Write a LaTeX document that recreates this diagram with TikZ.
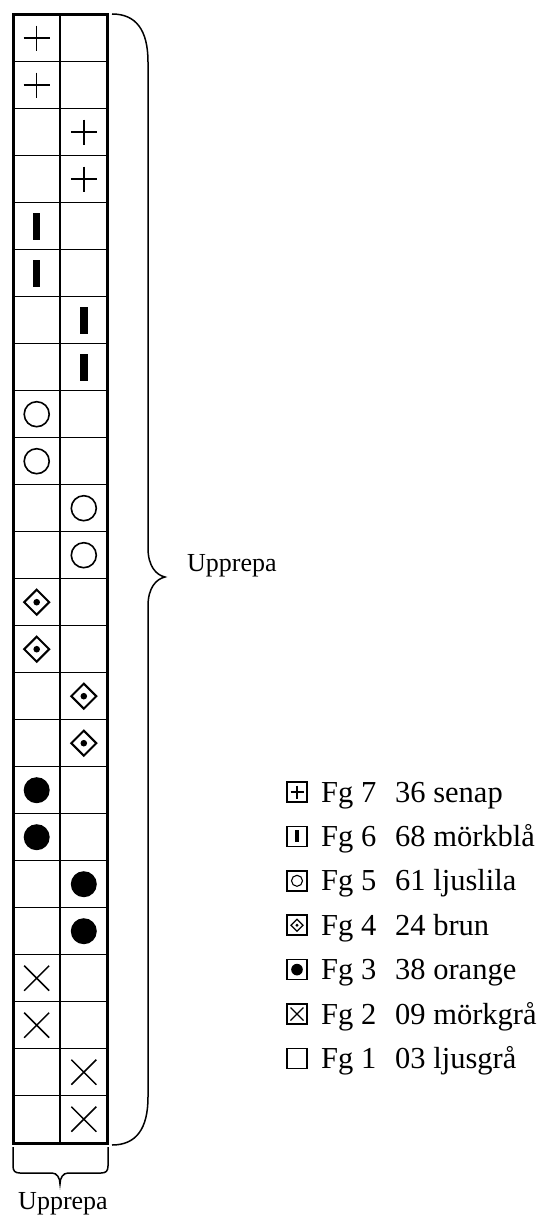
\documentclass[tikz,border=0pt]{standalone}
\usepackage{fontspec}
\setmainfont{Liberation Serif}
\begin{document}
\begin{tikzpicture}[x=1pt,y=-1pt,
  gridthin/.style={line width=1.3pt},
  gridthick/.style={line width=3.3pt},
  bracestyle/.style={line width=1.5pt},
  legbox/.style={line width=1.7pt},
  legtext/.style={anchor=base west,inner sep=0pt,font=\fontsize{30.5}{36}\selectfont},
  uptext/.style={inner sep=0pt,font=\fontsize{26}{31}\selectfont},
  symplus/.pic={\draw[line width=1.5pt] (-13,0)--(13,0) (0,-12.5)--(0,12.5);},
  symbar/.pic={\fill (-3.7,-13.3) rectangle (3.7,13.3);},
  symcirc/.pic={\draw[line width=1.6pt] (0,0) circle[radius=12.5pt];},
  symdiam/.pic={\draw[line width=2.1pt,line join=miter] (-12.5,0)--(0,-12.5)--(12.5,0)--(0,12.5)--cycle; \fill (0,0) circle[radius=3.3pt];},
  symdot/.pic={\fill (0,0) circle[radius=13pt];},
  symx/.pic={\draw[line width=1.5pt] (-12.5,-12.5)--(12.5,12.5) (-12.5,12.5)--(12.5,-12.5);},
  lplus/.pic={\draw[line width=1.1pt] (-6.5,0)--(6.5,0) (0,-6.5)--(0,6.5);},
  lbar/.pic={\fill (-2,-6) rectangle (2,6);},
  lcirc/.pic={\draw[line width=1.1pt] (0,0) circle[radius=5.5pt];},
  ldiam/.pic={\draw[line width=1.3pt] (-6,0)--(0,-6)--(6,0)--(0,6)--cycle; \fill (0,0) circle[radius=1.6pt];},
  ldot/.pic={\fill (0,0) circle[radius=5.8pt];},
  lx/.pic={\draw[line width=1.1pt] (-6.5,-6.5)--(6.5,6.5) (-6.5,6.5)--(6.5,-6.5);},
  lnone/.pic={},
]
\useasboundingbox (0,0) rectangle (547,1215);
% grid
\foreach \k in {1,...,23} {
  \draw[gridthin] (13.4,14.7+47*\k) -- (107.6,14.7+47*\k);
}
\draw[gridthin] (60,14.7) -- (60,1143.3);
\draw[gridthick] (13.4,14.7) rectangle (107.6,1143.3);
% symbols: row index, column (0 left, 1 right), pic
\foreach \r/\c/\s in {0/0/symplus,1/0/symplus,2/1/symplus,3/1/symplus,
  4/0/symbar,5/0/symbar,6/1/symbar,7/1/symbar,
  8/0/symcirc,9/0/symcirc,10/1/symcirc,11/1/symcirc,
  12/0/symdiam,13/0/symdiam,14/1/symdiam,15/1/symdiam,
  16/0/symdot,17/0/symdot,18/1/symdot,19/1/symdot,
  20/0/symx,21/0/symx,22/1/symx,23/1/symx} {
  \pic at (36.7+47.1*\c, 38.2+47*\r) {\s};
}
% right brace
\draw[bracestyle] (112,14) .. controls (136,14) and (148,30) .. (148,62)
  -- (148,548) .. controls (148,566) and (156,575) .. (165,577)
  .. controls (156,579) and (148,588) .. (148,606)
  -- (148,1097) .. controls (148,1129) and (136,1145) .. (112,1145);
\node[uptext,anchor=base west] (uright) at (187,571) {Upprepa};
% bottom brace
\draw[bracestyle] (13,1147) -- (13,1166) .. controls (13,1171) and (15,1173) .. (20,1173)
  -- (52,1173) .. controls (57,1173) and (60,1178) .. (60,1184)
  .. controls (60,1178) and (63,1173) .. (68,1173)
  -- (101,1173) .. controls (106,1173) and (108,1171) .. (108,1166) -- (108,1147);
\node[uptext,anchor=base] (ubottom) at (63,1209) {Upprepa};
% legend
\foreach \i/\n/\t/\s in {0/7/36 senap/lplus,1/6/68 mörkblå/lbar,2/5/61 ljuslila/lcirc,
  3/4/24 brun/ldiam,4/3/38 orange/ldot,5/2/09 mörkgrå/lx,6/1/03 ljusgrå/lnone} {
  \draw[legbox] (287,782+44.4*\i) rectangle (307,802+44.4*\i);
  \pic at (297,792+44.4*\i) {\s};
  \node[legtext] (fg\n) at (321,802+44.4*\i) {Fg \n};
  \node[legtext] (col\n) at (395,802+44.4*\i) {\t};
}
\end{tikzpicture}
\end{document}
